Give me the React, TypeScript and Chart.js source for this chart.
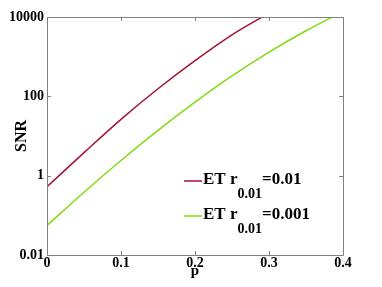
import React, { useEffect, useRef } from 'react';
import { Chart, registerables } from 'chart.js';

Chart.register(...registerables);

// p values
const pRed = [0, 0.05, 0.1, 0.15, 0.2, 0.25, 0.3];
const pGreen = [0, 0.05, 0.1, 0.15, 0.2, 0.25, 0.3, 0.35, 0.4];
// SNR values
const snrRed = [0.525, 3.8, 26.3, 155, 794, 3548, 12590];
const snrGreen = [0.0553, 0.383, 2.415, 13.9, 71.3, 326, 1297, 4498, 13800];

const xTicks = [0, 0.1, 0.2, 0.3, 0.4];
const xTickLabels = ['0', '0.1', '0.2', '0.3', '0.4'];
const yTicks = [0.01, 1, 100, 10000];
const yTickLabels = ['0.01', '1', '100', '10000'];

const legendMain = ['ET r', 'ET r'];
const legendSub = ['0.01', '0.01'];
const legendTail = ['=0.01', '=0.001'];

const RED = '#a3122f';
const GREEN = '#80dc12';
const AXIS = '#808080';
const FONT = '"Liberation Serif", "Times New Roman", serif';

const framePlugin = {
  id: 'frame',
  afterDatasetsDraw(chart: any) {
    const { ctx, chartArea } = chart;
    const { left, right, top, bottom } = chartArea;
    const xs = chart.scales.x;
    const ys = chart.scales.y;
    ctx.save();
    ctx.strokeStyle = AXIS;
    ctx.lineWidth = 1;
    ctx.beginPath();
    ctx.rect(Math.round(left) + 0.5, Math.round(top) + 0.5, Math.round(right - left), Math.round(bottom - top));
    ctx.stroke();
    const tl = 4;
    ctx.beginPath();
    xTicks.forEach((v) => {
      const px = Math.round(xs.getPixelForValue(v)) + 0.5;
      ctx.moveTo(px, bottom);
      ctx.lineTo(px, bottom - tl);
      ctx.moveTo(px, top);
      ctx.lineTo(px, top + tl);
    });
    yTicks.forEach((v) => {
      const py = Math.round(ys.getPixelForValue(v)) + 0.5;
      ctx.moveTo(left, py);
      ctx.lineTo(left + tl, py);
      ctx.moveTo(right, py);
      ctx.lineTo(right - tl, py);
    });
    ctx.stroke();
    ctx.restore();
  },
};

const legendPlugin = {
  id: 'customLegend',
  afterDraw(chart: any) {
    const { ctx, chartArea } = chart;
    const colors = [RED, GREEN];
    const x0 = chartArea.left + 137;
    const baseY0 = chartArea.top + 167;
    ctx.save();
    for (let i = 0; i < 2; i++) {
      const base = baseY0 + i * 35;
      ctx.strokeStyle = colors[i];
      ctx.lineWidth = 1.5;
      ctx.beginPath();
      ctx.moveTo(x0, base - 3);
      ctx.lineTo(x0 + 18, base - 3);
      ctx.stroke();
      ctx.fillStyle = '#000';
      ctx.textBaseline = 'alphabetic';
      ctx.textAlign = 'left';
      let x = x0 + 19;
      ctx.font = `bold 17px ${FONT}`;
      ctx.fillText(legendMain[i], x, base);
      x += ctx.measureText(legendMain[i]).width;
      ctx.font = `bold 14px ${FONT}`;
      ctx.fillText(legendSub[i], x, base + 14);
      x += ctx.measureText(legendSub[i]).width;
      ctx.font = `bold 17px ${FONT}`;
      ctx.fillText(legendTail[i], x, base);
    }
    ctx.restore();
  },
};

export default function App() {
  const ref = useRef<HTMLCanvasElement | null>(null);
  useEffect(() => {
    if (!ref.current) return;
    const chart = new Chart(ref.current, {
      type: 'line',
      data: {
        datasets: [
          {
            label: 'ET r0.01=0.01',
            data: pRed.map((p, i) => ({ x: p, y: snrRed[i] })),
            borderColor: RED,
            borderWidth: 1.5,
            pointRadius: 0,
            cubicInterpolationMode: 'monotone',
            fill: false,
          },
          {
            label: 'ET r0.01=0.001',
            data: pGreen.map((p, i) => ({ x: p, y: snrGreen[i] })),
            borderColor: GREEN,
            borderWidth: 1.5,
            pointRadius: 0,
            cubicInterpolationMode: 'monotone',
            fill: false,
          },
        ],
      },
      options: {
        responsive: false,
        animation: false,
        layout: { padding: { top: 17, right: 39, left: 0, bottom: 0 } },
        plugins: { legend: { display: false }, tooltip: { enabled: false } },
        scales: {
          x: {
            type: 'linear',
            min: 0,
            max: 0.4,
            afterBuildTicks: (s: any) => {
              s.ticks = xTicks.map((v) => ({ value: v }));
            },
            afterFit: (s: any) => {
              s.height = 32;
            },
            grid: { display: false, drawTicks: false },
            border: { display: false },
            ticks: {
              color: '#000',
              padding: 1,
              maxRotation: 0,
              font: { family: FONT, size: 14, weight: 'bold', lineHeight: 1 },
              callback: (v: any) => {
                const i = xTicks.findIndex((t) => Math.abs(t - v) < 1e-9);
                return i >= 0 ? xTickLabels[i] : '';
              },
            },
            title: {
              display: true,
              text: 'p',
              color: '#000',
              padding: { top: 0, bottom: 7 },
              font: { family: FONT, size: 15, weight: 'bold' },
            },
          },
          y: {
            type: 'logarithmic',
            min: 0.01,
            max: 10000,
            afterBuildTicks: (s: any) => {
              s.ticks = yTicks.map((v) => ({ value: v }));
            },
            afterFit: (s: any) => {
              s.width = 47;
            },
            grid: { display: false, drawTicks: false },
            border: { display: false },
            ticks: {
              color: '#000',
              padding: 3,
              font: { family: FONT, size: 14, weight: 'bold' },
              callback: (v: any) => {
                const i = yTicks.findIndex((t) => Math.abs(t - v) / t < 1e-6);
                return i >= 0 ? yTickLabels[i] : '';
              },
            },
            title: {
              display: true,
              text: 'SNR',
              color: '#000',
              padding: { top: 12, bottom: 0 },
              font: { family: FONT, size: 16, weight: 'bold' },
            },
          },
        },
      } as any,
      plugins: [framePlugin, legendPlugin],
    });
    return () => chart.destroy();
  }, []);
  return (
    <div style={{ position: 'absolute', left: 0, top: 0, width: 382, height: 287, background: '#fff' }}>
      <canvas ref={ref} width={382} height={287} style={{ display: 'block' }} />
    </div>
  );
}
